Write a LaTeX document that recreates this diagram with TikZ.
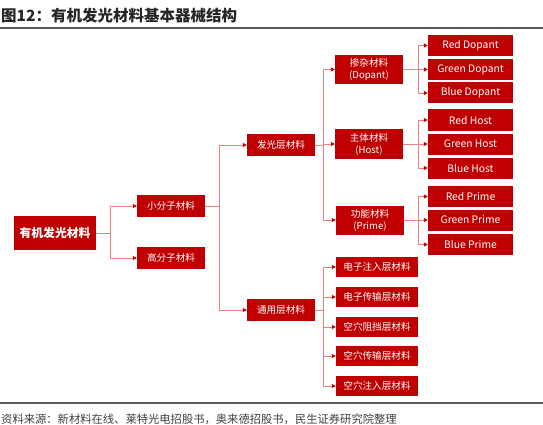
\documentclass[tikz,border=0pt]{standalone}
\usepackage{fontspec}
\setmainfont{Noto Sans CJK SC}
\usetikzlibrary{arrows.meta}

\definecolor{boxred}{RGB}{192,0,0}
\definecolor{linered}{RGB}{234,128,128}
\definecolor{rulegray}{RGB}{90,90,90}

\tikzset{
  box/.style={fill=boxred, text=white, inner sep=0pt, align=center,
              font=\fontsize{9.6}{12}\selectfont},
  midbox/.style={box, minimum width=68pt, minimum height=22pt},
  subbox/.style={box, minimum width=68pt, minimum height=29pt},
  leafbox/.style={box, minimum width=85pt, minimum height=21pt,
                  font=\fontsize{10.3}{12}\selectfont},
  layerbox/.style={box, minimum width=82pt, minimum height=20pt},
  conn/.style={draw=linered, line width=0.9pt,
               -{Triangle[length=4pt,width=4pt,color=boxred]}}
}

\begin{document}
\begin{tikzpicture}[x=1pt, y=-1pt]
  \useasboundingbox (0,0) rectangle (543,425);

  %--- Title and rules
  \node[anchor=base west, inner xsep=0pt, font=\bfseries\fontsize{15.5}{18}\selectfont, text=black!85]
    (title) at (1,22) {图12：有机发光材料基本器械结构};
  \draw[rulegray, line width=1.2pt] (0,28) -- (543,28);
  \draw[rulegray, line width=1.2pt] (0,403) -- (543,403);
  \node[anchor=base west, inner xsep=0pt, font=\fontsize{11.3}{13}\selectfont, text=black!75]
    (source) at (1,423) {资料来源：新材料在线、莱特光电招股书，奥来德招股书，民生证券研究院整理};

  %--- Root
  \node[box, font=\bfseries\fontsize{11.8}{13}\selectfont,
        minimum width=82pt, minimum height=34pt] (root) at (55,233) {有机发光材料};

  %--- Molecule type
  \node[midbox] (small) at (171,206) {小分子材料};
  \node[midbox] (poly)  at (171,258) {高分子材料};

  %--- Layers
  \node[midbox] (emit)   at (281,145) {发光层材料};
  \node[midbox] (common) at (281,310) {通用层材料};

  %--- Emitting layer materials
  \node[subbox] (dopant) at (369,69.5) {掺杂材料\\(Dopant)};
  \node[subbox] (host)   at (369,144)  {主体材料\\(Host)};
  \node[subbox] (prime)  at (370,220)  {功能材料\\(Prime)};

  %--- Leaves
  \node[leafbox] (rdop) at (470.5,45.5) {Red Dopant};
  \node[leafbox] (gdop) at (470.5,69.5) {Green Dopant};
  \node[leafbox] (bdop) at (470.5,93)   {Blue Dopant};
  \node[leafbox] (rhost) at (470.5,120) {Red Host};
  \node[leafbox] (ghost) at (470.5,144) {Green Host};
  \node[leafbox] (bhost) at (470.5,168) {Blue Host};
  \node[leafbox] (rpri) at (470.5,196.5) {Red Prime};
  \node[leafbox] (gpri) at (470.5,220)   {Green Prime};
  \node[leafbox] (bpri) at (470.5,244.5) {Blue Prime};

  %--- Common layer materials
  \node[layerbox] (eil) at (377,267) {电子注入层材料};
  \node[layerbox] (etl) at (377,297) {电子传输层材料};
  \node[layerbox] (hbl) at (377,327) {空穴阻挡层材料};
  \node[layerbox] (htl) at (377,356) {空穴传输层材料};
  \node[layerbox] (hil) at (377,386) {空穴注入层材料};

  %--- Trunk points
  \coordinate (troot) at (110,233);
  \coordinate (tsmall) at (219,206);
  \coordinate (temit) at (323,145);
  \coordinate (tcommon) at (323,310);
  \coordinate (tdop) at (418,69.5);
  \coordinate (thost) at (418,144);
  \coordinate (tpri) at (418,220);

  %--- Connectors
  \draw[linered, line width=0.9pt] (root.east) -- (troot);
  \draw[conn] (troot) |- (small.west);
  \draw[conn] (troot) |- (poly.west);

  \draw[linered, line width=0.9pt] (small.east) -- (tsmall);
  \draw[conn] (tsmall) |- (emit.west);
  \draw[conn] (tsmall) |- (common.west);

  \draw[linered, line width=0.9pt] (emit.east) -- (temit);
  \draw[conn] (temit) |- (dopant.west);
  \draw[conn] (temit) |- (host.west);
  \draw[conn] (temit) |- (prime.west);

  \draw[linered, line width=0.9pt] (common.east) -- (tcommon);
  \draw[conn] (tcommon) |- (eil.west);
  \draw[conn] (tcommon) |- (etl.west);
  \draw[conn] (tcommon) |- (hbl.west);
  \draw[conn] (tcommon) |- (htl.west);
  \draw[conn] (tcommon) |- (hil.west);

  \draw[linered, line width=0.9pt] (dopant.east) -- (tdop);
  \draw[conn] (tdop) |- (rdop.west);
  \draw[conn] (tdop) |- (gdop.west);
  \draw[conn] (tdop) |- (bdop.west);

  \draw[linered, line width=0.9pt] (host.east) -- (thost);
  \draw[conn] (thost) |- (rhost.west);
  \draw[conn] (thost) |- (ghost.west);
  \draw[conn] (thost) |- (bhost.west);

  \draw[linered, line width=0.9pt] (prime.east) -- (tpri);
  \draw[conn] (tpri) |- (rpri.west);
  \draw[conn] (tpri) |- (gpri.west);
  \draw[conn] (tpri) |- (bpri.west);

\end{tikzpicture}
\end{document}
